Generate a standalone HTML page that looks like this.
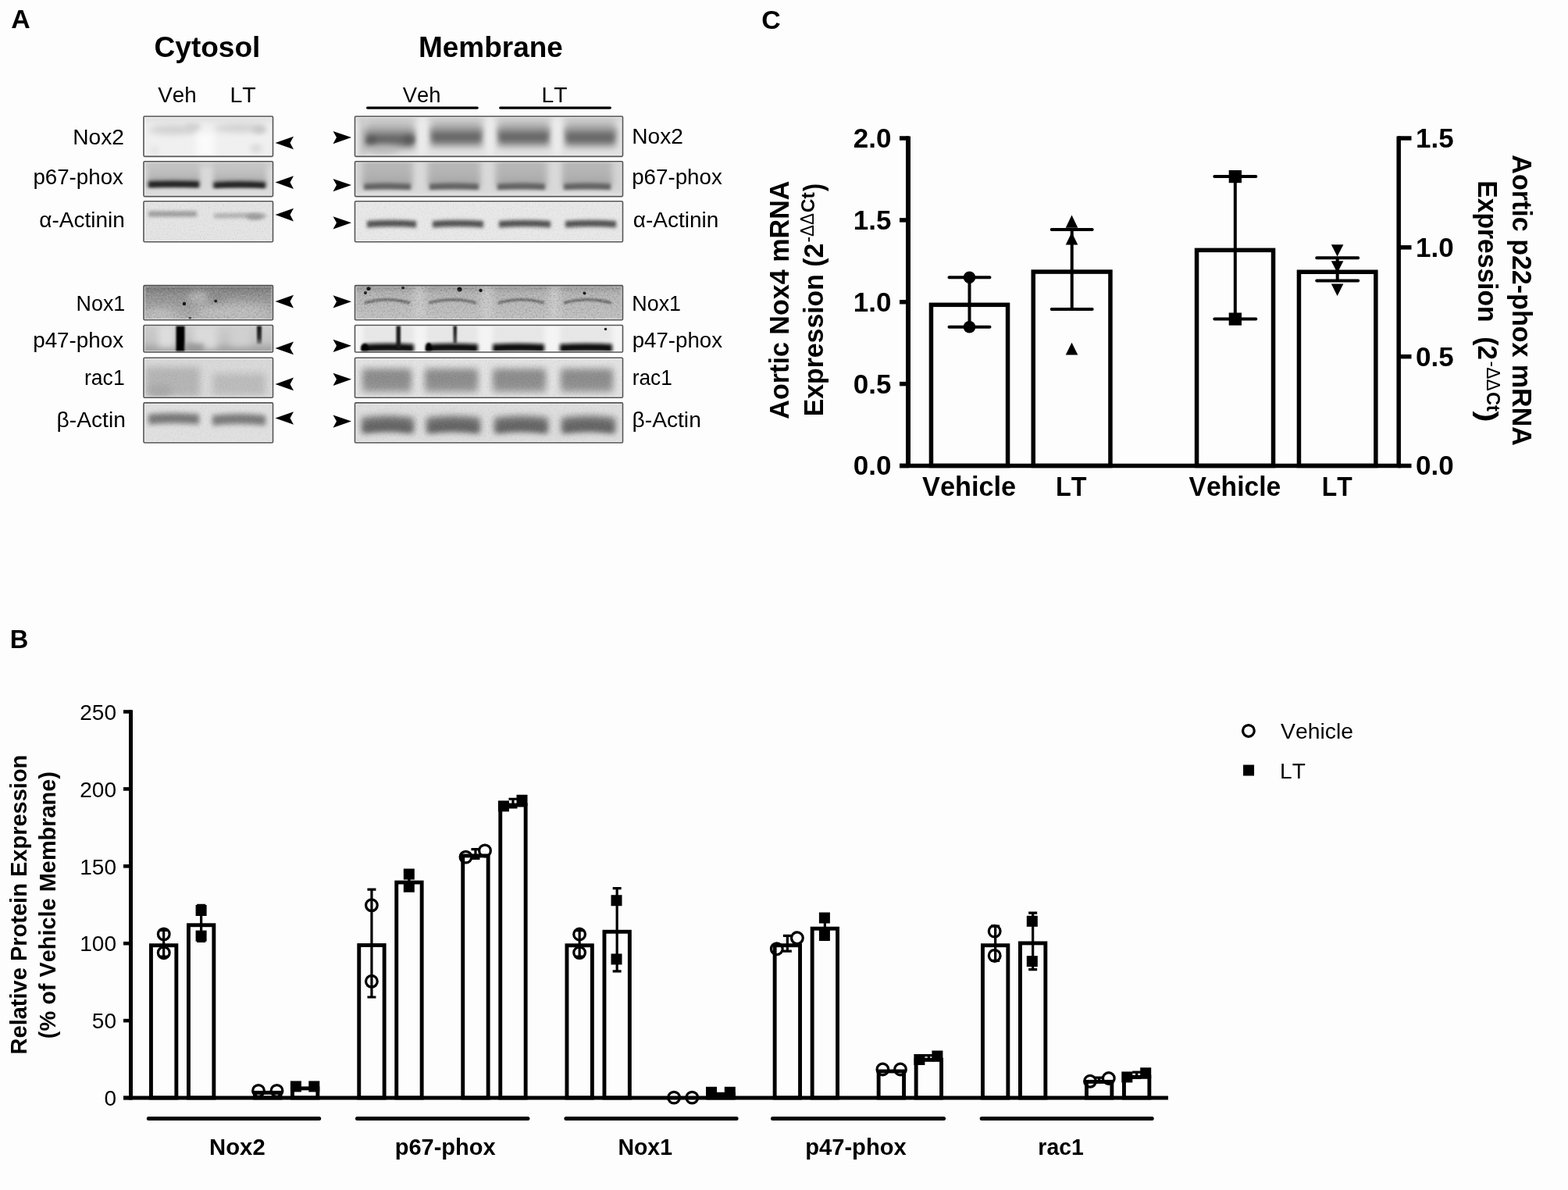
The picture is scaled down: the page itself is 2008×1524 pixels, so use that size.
<!DOCTYPE html>
<html><head><meta charset="utf-8"><title>Figure</title>
<style>html,body{margin:0;padding:0;background:#fdfdfd;overflow:hidden;width:2008px;height:1524px;}svg{display:block;} text{font-kerning:none;}</style></head>
<body><svg width="2008" height="1524" viewBox="0 0 2008 1524" font-family="'Liberation Sans', Arial, Helvetica, sans-serif">
<defs><filter id="b1" x="-50%" y="-300%" width="200%" height="700%"><feGaussianBlur stdDeviation="1.2"/></filter>
<filter id="b2" x="-50%" y="-300%" width="200%" height="700%"><feGaussianBlur stdDeviation="2"/></filter>
<filter id="b3" x="-50%" y="-300%" width="200%" height="700%"><feGaussianBlur stdDeviation="3"/></filter>
<filter id="b4" x="-50%" y="-300%" width="200%" height="700%"><feGaussianBlur stdDeviation="4"/></filter>
<filter id="b5" x="-50%" y="-300%" width="200%" height="700%"><feGaussianBlur stdDeviation="5"/></filter>
<filter id="b6" x="-50%" y="-300%" width="200%" height="700%"><feGaussianBlur stdDeviation="6"/></filter>
<filter id="b8" x="-50%" y="-300%" width="200%" height="700%"><feGaussianBlur stdDeviation="8"/></filter>
<filter id="n1D" x="0" y="0" width="100%" height="100%"><feTurbulence type="fractalNoise" baseFrequency="0.55" numOctaves="2" seed="3"/><feColorMatrix type="matrix" values="0 0 0 0 0  0 0 0 0 0  0 0 0 0 0  1.3 0 0 0 -0.65"/></filter>
<filter id="n1L" x="0" y="0" width="100%" height="100%"><feTurbulence type="fractalNoise" baseFrequency="0.55" numOctaves="2" seed="3"/><feColorMatrix type="matrix" values="0 0 0 0 1  0 0 0 0 1  0 0 0 0 1  -1.3 0 0 0 0.65"/></filter>
<filter id="n2D" x="0" y="0" width="100%" height="100%"><feTurbulence type="fractalNoise" baseFrequency="0.45" numOctaves="2" seed="7"/><feColorMatrix type="matrix" values="0 0 0 0 0  0 0 0 0 0  0 0 0 0 0  1.5 0 0 0 -0.75"/></filter>
<filter id="n2L" x="0" y="0" width="100%" height="100%"><feTurbulence type="fractalNoise" baseFrequency="0.45" numOctaves="2" seed="7"/><feColorMatrix type="matrix" values="0 0 0 0 1  0 0 0 0 1  0 0 0 0 1  -1.5 0 0 0 0.75"/></filter>
<clipPath id="c1"><rect x="184" y="149" width="165.5" height="51.4"/></clipPath>
<linearGradient id="g1" x1="0" y1="0" x2="0" y2="1"><stop offset="0" stop-color="#c8c8c8"/><stop offset="0.55" stop-color="#bcbcbc"/><stop offset="1" stop-color="#9a9a9a"/></linearGradient>
<linearGradient id="g2" x1="0" y1="0" x2="0" y2="1"><stop offset="0" stop-color="#cacaca"/><stop offset="0.55" stop-color="#bebebe"/><stop offset="1" stop-color="#9c9c9c"/></linearGradient>
<clipPath id="c2"><rect x="184" y="206.7" width="165.5" height="44.9"/></clipPath>
<clipPath id="c3"><rect x="184" y="257.7" width="165.5" height="52.1"/></clipPath>
<linearGradient id="g3" x1="0" y1="0" x2="0" y2="1"><stop offset="0" stop-color="#d4d4d4"/><stop offset="1" stop-color="#a8a8a8"/></linearGradient>
<linearGradient id="g4" x1="0" y1="0" x2="0" y2="1"><stop offset="0" stop-color="#d4d4d4"/><stop offset="1" stop-color="#a8a8a8"/></linearGradient>
<linearGradient id="g5" x1="0" y1="0" x2="0" y2="1"><stop offset="0" stop-color="#d4d4d4"/><stop offset="1" stop-color="#a8a8a8"/></linearGradient>
<linearGradient id="g6" x1="0" y1="0" x2="0" y2="1"><stop offset="0" stop-color="#d4d4d4"/><stop offset="1" stop-color="#a8a8a8"/></linearGradient>
<clipPath id="c4"><rect x="454.5" y="149" width="343" height="51.4"/></clipPath>
<linearGradient id="g7" x1="0" y1="0" x2="0" y2="1"><stop offset="0" stop-color="#bababa"/><stop offset="0.6" stop-color="#b2b2b2"/><stop offset="1" stop-color="#a2a2a2"/></linearGradient>
<linearGradient id="g8" x1="0" y1="0" x2="0" y2="1"><stop offset="0" stop-color="#bababa"/><stop offset="0.6" stop-color="#b2b2b2"/><stop offset="1" stop-color="#a2a2a2"/></linearGradient>
<linearGradient id="g9" x1="0" y1="0" x2="0" y2="1"><stop offset="0" stop-color="#bababa"/><stop offset="0.6" stop-color="#b2b2b2"/><stop offset="1" stop-color="#a2a2a2"/></linearGradient>
<linearGradient id="g10" x1="0" y1="0" x2="0" y2="1"><stop offset="0" stop-color="#bababa"/><stop offset="0.6" stop-color="#b2b2b2"/><stop offset="1" stop-color="#a2a2a2"/></linearGradient>
<clipPath id="c5"><rect x="454.5" y="206.7" width="343" height="44.9"/></clipPath>
<clipPath id="c6"><rect x="454.5" y="257.7" width="343" height="52.1"/></clipPath>
<linearGradient id="g11" x1="0" y1="0" x2="0" y2="1"><stop offset="0" stop-color="#6c6c6c"/><stop offset="0.25" stop-color="#909090"/><stop offset="0.7" stop-color="#a6a6a6"/><stop offset="1" stop-color="#b6b6b6"/></linearGradient>
<clipPath id="c7"><rect x="184" y="365.6" width="165.5" height="44.2"/></clipPath>
<linearGradient id="g12" x1="0" y1="0" x2="0" y2="1"><stop offset="0" stop-color="#cdcdcd"/><stop offset="0.6" stop-color="#c4c4c4"/><stop offset="1" stop-color="#9a9a9a"/></linearGradient>
<linearGradient id="g13" x1="0" y1="0" x2="0" y2="1"><stop offset="0" stop-color="#111111"/><stop offset="0.7" stop-color="#333333"/><stop offset="1" stop-color="#888888"/></linearGradient>
<clipPath id="c8"><rect x="184" y="416.5" width="165.5" height="34.5"/></clipPath>
<clipPath id="c9"><rect x="184" y="458.2" width="165.5" height="51.1"/></clipPath>
<clipPath id="c10"><rect x="184" y="515.9" width="165.5" height="51.1"/></clipPath>
<linearGradient id="g14" x1="0" y1="0" x2="0" y2="1"><stop offset="0" stop-color="#8a8a8a"/><stop offset="0.25" stop-color="#b4b4b4"/><stop offset="1" stop-color="#c2c2c2"/></linearGradient>
<clipPath id="c11"><rect x="454.5" y="365.6" width="343" height="44.2"/></clipPath>
<linearGradient id="g15" x1="0" y1="0" x2="0" y2="1"><stop offset="0" stop-color="#111"/><stop offset="0.5" stop-color="#2a2a2a"/><stop offset="1" stop-color="#555"/></linearGradient>
<clipPath id="c12"><rect x="454.5" y="416.5" width="343" height="34.5"/></clipPath>
<clipPath id="c13"><rect x="454.5" y="458.2" width="343" height="51.1"/></clipPath>
<clipPath id="c14"><rect x="454.5" y="515.9" width="343" height="51.1"/></clipPath></defs>
<rect width="2008" height="1524" fill="#fdfdfd"/>
<g clip-path="url(#c1)">
<rect x="184" y="149" width="165.5" height="51.4" fill="#f0f0f0"/>
<rect x="184" y="145" width="165.5" height="12" fill="#e2e2e2" filter="url(#b3)" opacity="1"/>
<ellipse cx="222" cy="166" rx="32" ry="6" fill="#cfcfcf" filter="url(#b4)" opacity="1"/>
<ellipse cx="247" cy="163" rx="10" ry="5" fill="#d0d0d0" filter="url(#b3)" opacity="1"/>
<ellipse cx="307" cy="164" rx="34" ry="5" fill="#cdcdcd" filter="url(#b4)" opacity="1"/>
<ellipse cx="332" cy="166" rx="9" ry="5" fill="#c8c8c8" filter="url(#b3)" opacity="1"/>
<rect x="252" y="170" width="22" height="35" fill="#fbfbfb" filter="url(#b4)" opacity="1"/>
<ellipse cx="328" cy="190" rx="8" ry="6" fill="#dcdcdc" filter="url(#b3)" opacity="1"/>
<ellipse cx="198" cy="193" rx="6" ry="6" fill="#e5e5e5" filter="url(#b3)" opacity="1"/>
<rect x="185.4" y="150.4" width="162.7" height="48.6" fill="none" stroke="#fff" stroke-width="1" opacity="0.55"/>
</g>
<rect x="184" y="149" width="165.5" height="51.4" rx="1.3" fill="none" stroke="#555555" stroke-width="1.6"/>
<g clip-path="url(#c2)">
<rect x="184" y="206.7" width="165.5" height="44.9" fill="#d9d9d9"/>
<rect x="184" y="206.7" width="165.5" height="8" fill="#cdcdcd" filter="url(#b3)" opacity="1"/>
<rect x="189" y="204.7" width="67" height="34" fill="url(#g1)" filter="url(#b3)" opacity="1"/>
<rect x="273" y="204.7" width="68" height="34" fill="url(#g2)" filter="url(#b3)" opacity="1"/>
<path d="M190 232.15 Q222.5 230.95 255 232.15 L255 240.65 Q222.5 239.45 190 240.65 Z" fill="#222222" filter="url(#b2)" opacity="1"/>
<path d="M273.5 233.55 Q306.75 230.75 340 233.55 L340 242.05 Q306.75 239.25 273.5 242.05 Z" fill="#222222" filter="url(#b2)" opacity="1"/>
<rect x="184" y="243" width="165.5" height="12" fill="#dcdcdc" filter="url(#b2)" opacity="1"/>
<rect x="185.4" y="208.1" width="162.7" height="42.1" fill="none" stroke="#fff" stroke-width="1" opacity="0.55"/>
</g>
<rect x="184" y="206.7" width="165.5" height="44.9" rx="1.3" fill="none" stroke="#555555" stroke-width="1.6"/>
<g clip-path="url(#c3)">
<rect x="184" y="257.7" width="165.5" height="52.1" fill="#e4e4e4"/>
<path d="M190 270.5 Q221 270.5 252 270.5 L252 277.5 Q221 277.5 190 277.5 Z" fill="#9c9c9c" filter="url(#b2)" opacity="1"/>
<path d="M274 273.6 Q307 272.4 340 273.6 L340 279.6 Q307 278.4 274 279.6 Z" fill="#afafaf" filter="url(#b2)" opacity="1"/>
<ellipse cx="326" cy="277.5" rx="11" ry="4" fill="#9d9d9d" filter="url(#b2)" opacity="1"/>
<rect x="184" y="257.7" width="165.5" height="52.1" filter="url(#n1D)" opacity="0.14"/>
<rect x="184" y="257.7" width="165.5" height="52.1" filter="url(#n1L)" opacity="0.14"/>
<rect x="185.4" y="259.1" width="162.7" height="49.3" fill="none" stroke="#fff" stroke-width="1" opacity="0.55"/>
</g>
<rect x="184" y="257.7" width="165.5" height="52.1" rx="1.3" fill="none" stroke="#555555" stroke-width="1.6"/>
<g clip-path="url(#c4)">
<rect x="454.5" y="149" width="343" height="51.4" fill="#e4e4e4"/>
<rect x="452.5" y="145" width="347" height="10" fill="#d8d8d8" filter="url(#b3)" opacity="1"/>
<rect x="460.5" y="149" width="8" height="51.4" fill="#cacaca" filter="url(#b3)" opacity="1"/>
<rect x="468" y="147" width="62" height="29.5" fill="url(#g3)" filter="url(#b4)" opacity="1"/>
<rect x="467" y="166.5" width="64" height="24" fill="#8c8c8c" filter="url(#b5)" opacity="1"/>
<rect x="470" y="173" width="58" height="11" fill="#686868" filter="url(#b3)" opacity="1"/>
<rect x="552" y="147" width="65" height="26.5" fill="url(#g4)" filter="url(#b4)" opacity="1"/>
<rect x="551" y="163.5" width="67" height="24" fill="#8c8c8c" filter="url(#b5)" opacity="1"/>
<rect x="554" y="170" width="61" height="11" fill="#686868" filter="url(#b3)" opacity="1"/>
<rect x="638" y="147" width="65" height="26.5" fill="url(#g5)" filter="url(#b4)" opacity="1"/>
<rect x="637" y="163.5" width="67" height="24" fill="#8c8c8c" filter="url(#b5)" opacity="1"/>
<rect x="640" y="170" width="61" height="11" fill="#686868" filter="url(#b3)" opacity="1"/>
<rect x="724" y="147" width="64" height="27" fill="url(#g6)" filter="url(#b4)" opacity="1"/>
<rect x="723" y="164" width="66" height="24" fill="#8c8c8c" filter="url(#b5)" opacity="1"/>
<rect x="726" y="170.5" width="60" height="11" fill="#686868" filter="url(#b3)" opacity="1"/>
<ellipse cx="476" cy="180" rx="7" ry="5" fill="#555" filter="url(#b3)" opacity="0.8"/>
<ellipse cx="524" cy="179" rx="8" ry="5" fill="#555" filter="url(#b3)" opacity="0.8"/>
<ellipse cx="490" cy="192" rx="22" ry="6" fill="#b8b8b8" filter="url(#b4)" opacity="0.8"/>
<rect x="536" y="149" width="10" height="51.4" fill="#ececec" filter="url(#b3)" opacity="0.9"/>
<rect x="622.5" y="149" width="10" height="51.4" fill="#ececec" filter="url(#b3)" opacity="0.9"/>
<rect x="708.5" y="149" width="10" height="51.4" fill="#ececec" filter="url(#b3)" opacity="0.9"/>
<rect x="455.9" y="150.4" width="340.2" height="48.6" fill="none" stroke="#fff" stroke-width="1" opacity="0.55"/>
</g>
<rect x="454.5" y="149" width="343" height="51.4" rx="1.3" fill="none" stroke="#555555" stroke-width="1.6"/>
<g clip-path="url(#c5)">
<rect x="454.5" y="206.7" width="343" height="44.9" fill="#d4d4d4"/>
<rect x="464" y="202.7" width="64" height="36" fill="url(#g7)" filter="url(#b4)" opacity="1"/>
<path d="M466 235.35 Q496 232.95 526 235.35 L526 243.85 Q496 241.45 466 243.85 Z" fill="#626262" filter="url(#b2)" opacity="1"/>
<rect x="548" y="202.7" width="67" height="36" fill="url(#g8)" filter="url(#b4)" opacity="1"/>
<path d="M550 235.35 Q581.5 232.95 613 235.35 L613 243.85 Q581.5 241.45 550 243.85 Z" fill="#626262" filter="url(#b2)" opacity="1"/>
<rect x="635" y="202.7" width="65" height="36" fill="url(#g9)" filter="url(#b4)" opacity="1"/>
<path d="M637 235.35 Q667.5 232.95 698 235.35 L698 243.85 Q667.5 241.45 637 243.85 Z" fill="#626262" filter="url(#b2)" opacity="1"/>
<rect x="720" y="202.7" width="64" height="36" fill="url(#g10)" filter="url(#b4)" opacity="1"/>
<path d="M722 235.35 Q752 232.95 782 235.35 L782 243.85 Q752 241.45 722 243.85 Z" fill="#626262" filter="url(#b2)" opacity="1"/>
<rect x="533" y="206.7" width="10" height="44.9" fill="#dadada" filter="url(#b3)" opacity="0.9"/>
<rect x="620" y="206.7" width="10" height="44.9" fill="#dadada" filter="url(#b3)" opacity="0.9"/>
<rect x="706" y="206.7" width="10" height="44.9" fill="#dadada" filter="url(#b3)" opacity="0.9"/>
<rect x="454.5" y="245.5" width="343" height="12" fill="#dddddd" filter="url(#b2)" opacity="1"/>
<rect x="455.9" y="208.1" width="340.2" height="42.1" fill="none" stroke="#fff" stroke-width="1" opacity="0.55"/>
</g>
<rect x="454.5" y="206.7" width="343" height="44.9" rx="1.3" fill="none" stroke="#555555" stroke-width="1.6"/>
<g clip-path="url(#c6)">
<rect x="454.5" y="257.7" width="343" height="52.1" fill="#e8e8e8"/>
<path d="M470 283.05 Q501.5 280.45 533 283.05 L533 291.55 Q501.5 288.95 470 291.55 Z" fill="#525252" filter="url(#b2)" opacity="1"/>
<path d="M554 283.05 Q586.5 280.45 619 283.05 L619 291.55 Q586.5 288.95 554 291.55 Z" fill="#525252" filter="url(#b2)" opacity="1"/>
<path d="M639 283.05 Q672 280.45 705 283.05 L705 291.55 Q672 288.95 639 291.55 Z" fill="#525252" filter="url(#b2)" opacity="1"/>
<path d="M724 283.05 Q756.5 280.45 789 283.05 L789 291.55 Q756.5 288.95 724 291.55 Z" fill="#525252" filter="url(#b2)" opacity="1"/>
<rect x="454.5" y="257.7" width="343" height="52.1" filter="url(#n1D)" opacity="0.14"/>
<rect x="454.5" y="257.7" width="343" height="52.1" filter="url(#n1L)" opacity="0.14"/>
<rect x="455.9" y="259.1" width="340.2" height="49.3" fill="none" stroke="#fff" stroke-width="1" opacity="0.55"/>
</g>
<rect x="454.5" y="257.7" width="343" height="52.1" rx="1.3" fill="none" stroke="#555555" stroke-width="1.6"/>
<g clip-path="url(#c7)">
<rect x="184" y="365.6" width="165.5" height="44.2" fill="#a8a8a8"/>
<rect x="184" y="363.6" width="165.5" height="50" fill="url(#g11)" filter="url(#b2)" opacity="1"/>
<ellipse cx="300" cy="400" rx="50" ry="12" fill="#c2c2c2" filter="url(#b6)" opacity="0.8"/>
<ellipse cx="205" cy="404" rx="22" ry="8" fill="#c0c0c0" filter="url(#b6)" opacity="1"/>
<ellipse cx="255" cy="381" rx="14" ry="8" fill="#bcbcbc" filter="url(#b4)" opacity="0.8"/>
<ellipse cx="277" cy="379" rx="12" ry="10" fill="#8c8c8c" filter="url(#b4)" opacity="0.6"/>
<circle cx="236" cy="389" r="2.2" fill="#111"/>
<circle cx="276.3" cy="385.5" r="2" fill="#222"/>
<circle cx="243.2" cy="407.5" r="1.7" fill="#333"/>
<rect x="184" y="365.6" width="165.5" height="44.2" filter="url(#n2D)" opacity="0.3"/>
<rect x="184" y="365.6" width="165.5" height="44.2" filter="url(#n2L)" opacity="0.3"/>
<rect x="185.4" y="367" width="162.7" height="41.4" fill="none" stroke="#fff" stroke-width="1" opacity="0.55"/>
</g>
<rect x="184" y="365.6" width="165.5" height="44.2" rx="1.3" fill="none" stroke="#555555" stroke-width="1.6"/>
<g clip-path="url(#c8)">
<rect x="184" y="416.5" width="165.5" height="34.5" fill="#c8c8c8"/>
<rect x="184" y="416.5" width="165.5" height="34.5" fill="url(#g12)" filter="url(#b2)" opacity="1"/>
<rect x="203" y="416.5" width="20" height="28" fill="#dedede" filter="url(#b4)" opacity="1"/>
<rect x="248" y="416.5" width="30" height="30" fill="#dadada" filter="url(#b4)" opacity="1"/>
<rect x="296" y="416.5" width="25" height="26" fill="#d0d0d0" filter="url(#b4)" opacity="1"/>
<rect x="225.5" y="414.5" width="11" height="42" fill="#050505" filter="url(#b1)" opacity="1"/>
<rect x="239" y="440" width="22" height="14" fill="#9a9a9a" filter="url(#b3)" opacity="1"/>
<rect x="329" y="414.5" width="6" height="26" fill="url(#g13)" filter="url(#b1)" opacity="1"/>
<rect x="185.4" y="417.9" width="162.7" height="31.7" fill="none" stroke="#fff" stroke-width="1" opacity="0.55"/>
</g>
<rect x="184" y="416.5" width="165.5" height="34.5" rx="1.3" fill="none" stroke="#555555" stroke-width="1.6"/>
<g clip-path="url(#c9)">
<rect x="184" y="458.2" width="165.5" height="51.1" fill="#d9d9d9"/>
<rect x="186" y="470" width="70" height="38" fill="#b5b5b5" filter="url(#b5)" opacity="1"/>
<ellipse cx="205" cy="500" rx="16" ry="8" fill="#a9a9a9" filter="url(#b4)" opacity="1"/>
<rect x="272" y="478" width="68" height="28" fill="#bcbcbc" filter="url(#b5)" opacity="1"/>
<rect x="184" y="458.2" width="165.5" height="51.1" filter="url(#n1D)" opacity="0.12"/>
<rect x="184" y="458.2" width="165.5" height="51.1" filter="url(#n1L)" opacity="0.12"/>
<rect x="185.4" y="459.6" width="162.7" height="48.3" fill="none" stroke="#fff" stroke-width="1" opacity="0.55"/>
</g>
<rect x="184" y="458.2" width="165.5" height="51.1" rx="1.3" fill="none" stroke="#555555" stroke-width="1.6"/>
<g clip-path="url(#c10)">
<rect x="184" y="515.9" width="165.5" height="51.1" fill="#e0e0e0"/>
<path d="M190 530.5 Q222.5 527.5 255 530.5 L255 543.5 Q222.5 540.5 190 543.5 Z" fill="#787878" filter="url(#b3)" opacity="1"/>
<path d="M272 532 Q306 528 340 532 L340 545 Q306 541 272 545 Z" fill="#7a7a7a" filter="url(#b3)" opacity="1"/>
<rect x="184" y="515.9" width="165.5" height="51.1" filter="url(#n1D)" opacity="0.12"/>
<rect x="184" y="515.9" width="165.5" height="51.1" filter="url(#n1L)" opacity="0.12"/>
<rect x="185.4" y="517.3" width="162.7" height="48.3" fill="none" stroke="#fff" stroke-width="1" opacity="0.55"/>
</g>
<rect x="184" y="515.9" width="165.5" height="51.1" rx="1.3" fill="none" stroke="#555555" stroke-width="1.6"/>
<g clip-path="url(#c11)">
<rect x="454.5" y="365.6" width="343" height="44.2" fill="#c0c0c0"/>
<rect x="454.5" y="363.6" width="343" height="48" fill="url(#g14)" filter="url(#b2)" opacity="1"/>
<path d="M467 388 Q496 379.5 525 388" stroke="#6e6e6e" stroke-width="3.6" fill="none" filter="url(#b1)"/>
<path d="M549 388 Q579.5 379.5 610 388" stroke="#6e6e6e" stroke-width="3.6" fill="none" filter="url(#b1)"/>
<path d="M638 388 Q667.5 379.5 697 388" stroke="#6e6e6e" stroke-width="3.6" fill="none" filter="url(#b1)"/>
<path d="M722 388 Q752.5 379.5 783 388" stroke="#6e6e6e" stroke-width="3.6" fill="none" filter="url(#b1)"/>
<rect x="530" y="365.6" width="14" height="44.2" fill="#d0d0d0" filter="url(#b4)" opacity="0.7"/>
<rect x="617" y="365.6" width="14" height="44.2" fill="#d0d0d0" filter="url(#b4)" opacity="0.7"/>
<rect x="703" y="365.6" width="14" height="44.2" fill="#d0d0d0" filter="url(#b4)" opacity="0.7"/>
<circle cx="472" cy="369.5" r="2.6" fill="#151515"/>
<circle cx="468" cy="375" r="2" fill="#151515"/>
<circle cx="516" cy="368.5" r="2" fill="#151515"/>
<circle cx="588.5" cy="370.5" r="3" fill="#151515"/>
<circle cx="615.5" cy="372" r="2.2" fill="#151515"/>
<circle cx="748.5" cy="375.5" r="2" fill="#151515"/>
<rect x="454.5" y="365.6" width="343" height="44.2" filter="url(#n2D)" opacity="0.3"/>
<rect x="454.5" y="365.6" width="343" height="44.2" filter="url(#n2L)" opacity="0.3"/>
<rect x="455.9" y="367" width="340.2" height="41.4" fill="none" stroke="#fff" stroke-width="1" opacity="0.55"/>
</g>
<rect x="454.5" y="365.6" width="343" height="44.2" rx="1.3" fill="none" stroke="#555555" stroke-width="1.6"/>
<g clip-path="url(#c12)">
<rect x="454.5" y="416.5" width="343" height="34.5" fill="#f4f4f4"/>
<rect x="465" y="416.5" width="65" height="22" fill="#e6e6e6" filter="url(#b3)" opacity="1"/>
<path d="M465 440.65 Q497.5 438.85 530 440.65 L530 451.15 Q497.5 449.35 465 451.15 Z" fill="#0c0c0c" filter="url(#b2)" opacity="1"/>
<rect x="546" y="416.5" width="66" height="22" fill="#e6e6e6" filter="url(#b3)" opacity="1"/>
<path d="M546 440.65 Q579 438.85 612 440.65 L612 451.15 Q579 449.35 546 451.15 Z" fill="#0c0c0c" filter="url(#b2)" opacity="1"/>
<rect x="631" y="416.5" width="66" height="22" fill="#e6e6e6" filter="url(#b3)" opacity="1"/>
<path d="M631 440.65 Q664 438.85 697 440.65 L697 451.15 Q664 449.35 631 451.15 Z" fill="#0c0c0c" filter="url(#b2)" opacity="1"/>
<rect x="717" y="416.5" width="67" height="22" fill="#e6e6e6" filter="url(#b3)" opacity="1"/>
<path d="M717 440.65 Q750.5 438.85 784 440.65 L784 451.15 Q750.5 449.35 717 451.15 Z" fill="#0c0c0c" filter="url(#b2)" opacity="1"/>
<rect x="507.5" y="414.5" width="5.5" height="32" fill="#1c1c1c" filter="url(#b1)" opacity="1"/>
<rect x="580.5" y="414.5" width="4.5" height="26" fill="url(#g15)" filter="url(#b1)" opacity="1"/>
<ellipse cx="467" cy="446" rx="5" ry="6" fill="#000" filter="url(#b1)" opacity="1"/>
<ellipse cx="549" cy="446" rx="4" ry="7" fill="#000" filter="url(#b1)" opacity="1"/>
<circle cx="775.5" cy="421.5" r="1.8" fill="#222"/>
<rect x="455.9" y="417.9" width="340.2" height="31.7" fill="none" stroke="#fff" stroke-width="1" opacity="0.55"/>
</g>
<rect x="454.5" y="416.5" width="343" height="34.5" rx="1.3" fill="none" stroke="#555555" stroke-width="1.6"/>
<g clip-path="url(#c13)">
<rect x="454.5" y="458.2" width="343" height="51.1" fill="#e3e3e3"/>
<rect x="464" y="472" width="63" height="30" fill="#939393" filter="url(#b5)" opacity="1"/>
<rect x="468" y="478" width="55" height="12" fill="#888888" filter="url(#b4)" opacity="0.7"/>
<rect x="544" y="472" width="68" height="30" fill="#939393" filter="url(#b5)" opacity="1"/>
<rect x="548" y="478" width="60" height="12" fill="#888888" filter="url(#b4)" opacity="0.7"/>
<rect x="631" y="472" width="68" height="30" fill="#939393" filter="url(#b5)" opacity="1"/>
<rect x="635" y="478" width="60" height="12" fill="#888888" filter="url(#b4)" opacity="0.7"/>
<rect x="718" y="472" width="67" height="30" fill="#939393" filter="url(#b5)" opacity="1"/>
<rect x="722" y="478" width="59" height="12" fill="#888888" filter="url(#b4)" opacity="0.7"/>
<rect x="454.5" y="458.2" width="343" height="51.1" filter="url(#n1D)" opacity="0.14"/>
<rect x="454.5" y="458.2" width="343" height="51.1" filter="url(#n1L)" opacity="0.14"/>
<rect x="455.9" y="459.6" width="340.2" height="48.3" fill="none" stroke="#fff" stroke-width="1" opacity="0.55"/>
</g>
<rect x="454.5" y="458.2" width="343" height="51.1" rx="1.3" fill="none" stroke="#555555" stroke-width="1.6"/>
<g clip-path="url(#c14)">
<rect x="454.5" y="515.9" width="343" height="51.1" fill="#dedede"/>
<path d="M463 535 Q496.5 530 530 535 L530 555 Q496.5 550 463 555 Z" fill="#6e6e6e" filter="url(#b4)" opacity="1"/>
<path d="M466 545.5 Q496.5 540.5 527 545.5 L527 553.5 Q496.5 548.5 466 553.5 Z" fill="#5a5a5a" filter="url(#b3)" opacity="0.7"/>
<path d="M546 535 Q580.5 530 615 535 L615 555 Q580.5 550 546 555 Z" fill="#6e6e6e" filter="url(#b4)" opacity="1"/>
<path d="M549 545.5 Q580.5 540.5 612 545.5 L612 553.5 Q580.5 548.5 549 553.5 Z" fill="#5a5a5a" filter="url(#b3)" opacity="0.7"/>
<path d="M633 535 Q667.5 530 702 535 L702 555 Q667.5 550 633 555 Z" fill="#6e6e6e" filter="url(#b4)" opacity="1"/>
<path d="M636 545.5 Q667.5 540.5 699 545.5 L699 553.5 Q667.5 548.5 636 553.5 Z" fill="#5a5a5a" filter="url(#b3)" opacity="0.7"/>
<path d="M719 535 Q753.5 530 788 535 L788 555 Q753.5 550 719 555 Z" fill="#6e6e6e" filter="url(#b4)" opacity="1"/>
<path d="M722 545.5 Q753.5 540.5 785 545.5 L785 553.5 Q753.5 548.5 722 553.5 Z" fill="#5a5a5a" filter="url(#b3)" opacity="0.7"/>
<rect x="454.5" y="515.9" width="343" height="51.1" filter="url(#n1D)" opacity="0.14"/>
<rect x="454.5" y="515.9" width="343" height="51.1" filter="url(#n1L)" opacity="0.14"/>
<rect x="455.9" y="517.3" width="340.2" height="48.3" fill="none" stroke="#fff" stroke-width="1" opacity="0.55"/>
</g>
<rect x="454.5" y="515.9" width="343" height="51.1" rx="1.3" fill="none" stroke="#555555" stroke-width="1.6"/>
<path d="M352.5 183 L376 174.7 L371.5 183 L376 191.3 Z" fill="#000"/>
<path d="M352.5 233.6 L376 225.3 L371.5 233.6 L376 241.9 Z" fill="#000"/>
<path d="M352.5 275.1 L376 266.8 L371.5 275.1 L376 283.4 Z" fill="#000"/>
<path d="M352.5 386.1 L376 377.8 L371.5 386.1 L376 394.4 Z" fill="#000"/>
<path d="M352.5 445.9 L376 437.6 L371.5 445.9 L376 454.2 Z" fill="#000"/>
<path d="M352.5 491.9 L376 483.6 L371.5 491.9 L376 500.2 Z" fill="#000"/>
<path d="M352.5 535.5 L376 527.2 L371.5 535.5 L376 543.8 Z" fill="#000"/>
<path d="M450 176.1 L426.5 168 L431 176.1 L426.5 184.2 Z" fill="#000"/>
<path d="M450 237.1 L426.5 229 L431 237.1 L426.5 245.2 Z" fill="#000"/>
<path d="M450 285.3 L426.5 277.2 L431 285.3 L426.5 293.4 Z" fill="#000"/>
<path d="M450 386.3 L426.5 378.2 L431 386.3 L426.5 394.4 Z" fill="#000"/>
<path d="M450 442.8 L426.5 434.7 L431 442.8 L426.5 450.9 Z" fill="#000"/>
<path d="M450 485.8 L426.5 477.7 L431 485.8 L426.5 493.9 Z" fill="#000"/>
<path d="M450 539.6 L426.5 531.5 L431 539.6 L426.5 547.7 Z" fill="#000"/>
<text x="14.35" y="36.4" font-size="32.8" font-weight="bold" textLength="24.48" lengthAdjust="spacingAndGlyphs">A</text>
<text x="197.52" y="73" font-size="36.6" font-weight="bold" textLength="135.88" lengthAdjust="spacingAndGlyphs">Cytosol</text>
<text x="536" y="73.4" font-size="36.8" font-weight="bold" textLength="184.9" lengthAdjust="spacingAndGlyphs">Membrane</text>
<text x="202.16" y="130.6" font-size="27.2" textLength="49.42" lengthAdjust="spacingAndGlyphs">Veh</text>
<text x="294.44" y="130.6" font-size="27.2" textLength="33.27" lengthAdjust="spacingAndGlyphs">LT</text>
<text x="515.76" y="130.9" font-size="27.2" textLength="48.7" lengthAdjust="spacingAndGlyphs">Veh</text>
<text x="693.46" y="130.9" font-size="27.2" textLength="33.05" lengthAdjust="spacingAndGlyphs">LT</text>
<line x1="470.6" y1="138.1" x2="611.2" y2="138.1" stroke="#000" stroke-width="3.3" stroke-linecap="round"/>
<line x1="640.7" y1="138.1" x2="781.3" y2="138.1" stroke="#000" stroke-width="3.3" stroke-linecap="round"/>
<text x="93.27" y="184.6" font-size="27.3" textLength="65.73" lengthAdjust="spacingAndGlyphs">Nox2</text>
<text x="42.4" y="236.2" font-size="27.3" textLength="115.55" lengthAdjust="spacingAndGlyphs">p67-phox</text>
<text x="50.31" y="290.9" font-size="27.3" textLength="109.61" lengthAdjust="spacingAndGlyphs">α-Actinin</text>
<text x="97.58" y="397.7" font-size="27.3" textLength="62.69" lengthAdjust="spacingAndGlyphs">Nox1</text>
<text x="42.19" y="444.8" font-size="27.3" textLength="115.96" lengthAdjust="spacingAndGlyphs">p47-phox</text>
<text x="108" y="493.4" font-size="27.3" textLength="51.66" lengthAdjust="spacingAndGlyphs">rac1</text>
<text x="72.63" y="547" font-size="27.3" textLength="88.2" lengthAdjust="spacingAndGlyphs">β-Actin</text>
<text x="809.17" y="184.3" font-size="27.3" textLength="65.73" lengthAdjust="spacingAndGlyphs">Nox2</text>
<text x="809.19" y="236.2" font-size="27.3" textLength="115.65" lengthAdjust="spacingAndGlyphs">p67-phox</text>
<text x="810.71" y="290.9" font-size="27.3" textLength="109.61" lengthAdjust="spacingAndGlyphs">α-Actinin</text>
<text x="809.28" y="398" font-size="27.3" textLength="62.8" lengthAdjust="spacingAndGlyphs">Nox1</text>
<text x="809.7" y="444.8" font-size="27.3" textLength="115.35" lengthAdjust="spacingAndGlyphs">p47-phox</text>
<text x="809.72" y="493.4" font-size="27.3" textLength="51.13" lengthAdjust="spacingAndGlyphs">rac1</text>
<text x="809.53" y="547" font-size="27.3" textLength="88.31" lengthAdjust="spacingAndGlyphs">β-Actin</text>
<text x="975.34" y="36.6" font-size="33" font-weight="bold" textLength="24.49" lengthAdjust="spacingAndGlyphs">C</text>
<path d="M1163 174.5 V599" stroke="#000" stroke-width="6" fill="none"/>
<path d="M1791.2 174.5 V599" stroke="#000" stroke-width="5.5" fill="none"/>
<path d="M1152 596.5 H1794" stroke="#000" stroke-width="5.5" fill="none"/>
<path d="M1152 596.5 H1164" stroke="#000" stroke-width="5.5"/>
<text x="1141.5" y="608.4" font-size="35" font-weight="bold" text-anchor="end">0.0</text>
<path d="M1152 491.62 H1164" stroke="#000" stroke-width="5.5"/>
<text x="1141.5" y="503.52" font-size="35" font-weight="bold" text-anchor="end">0.5</text>
<path d="M1152 386.75 H1164" stroke="#000" stroke-width="5.5"/>
<text x="1141.5" y="398.65" font-size="35" font-weight="bold" text-anchor="end">1.0</text>
<path d="M1152 281.88 H1164" stroke="#000" stroke-width="5.5"/>
<text x="1141.5" y="293.77" font-size="35" font-weight="bold" text-anchor="end">1.5</text>
<path d="M1152 177 H1164" stroke="#000" stroke-width="5.5"/>
<text x="1141.5" y="188.9" font-size="35" font-weight="bold" text-anchor="end">2.0</text>
<path d="M1790 596.5 H1807.5" stroke="#000" stroke-width="5.5"/>
<text x="1813" y="608.4" font-size="35" font-weight="bold">0.0</text>
<path d="M1790 456.66 H1807.5" stroke="#000" stroke-width="5.5"/>
<text x="1813" y="468.56" font-size="35" font-weight="bold">0.5</text>
<path d="M1790 316.83 H1807.5" stroke="#000" stroke-width="5.5"/>
<text x="1813" y="328.73" font-size="35" font-weight="bold">1.0</text>
<path d="M1790 177 H1807.5" stroke="#000" stroke-width="5.5"/>
<text x="1813" y="188.9" font-size="35" font-weight="bold">1.5</text>
<rect x="1192.45" y="390.35" width="98.1" height="206.15" fill="#fff" fill-opacity="0" stroke="#000" stroke-width="5.5"/>
<rect x="1323.25" y="348.05" width="98.7" height="248.45" fill="#fff" fill-opacity="0" stroke="#000" stroke-width="5.5"/>
<rect x="1532.55" y="320.35" width="98" height="276.15" fill="#fff" fill-opacity="0" stroke="#000" stroke-width="5.5"/>
<rect x="1663.45" y="348.25" width="98.4" height="248.25" fill="#fff" fill-opacity="0" stroke="#000" stroke-width="5.5"/>
<path d="M1241.5 355.2 V418.7" stroke="#000" stroke-width="4"/>
<path d="M1215.5 355.2 H1267.5 M1215.5 418.7 H1267.5" stroke="#000" stroke-width="4" stroke-linecap="round"/>
<circle cx="1241.5" cy="355.2" r="7.8" fill="#000"/><circle cx="1241.5" cy="418.7" r="7.8" fill="#000"/>
<path d="M1372.7 294 V396" stroke="#000" stroke-width="4"/>
<path d="M1346.7 294 H1398.7 M1346.7 396 H1398.7" stroke="#000" stroke-width="4" stroke-linecap="round"/>
<path d="M1372.5 275.4 L1380.3 291.7 L1364.7 291.7 Z" fill="#000"/>
<path d="M1372.5 297.5 L1380.3 313.5 L1364.7 313.5 Z" fill="#000"/>
<path d="M1372.5 438.8 L1380.3 454.6 L1364.7 454.6 Z" fill="#000"/>
<path d="M1581.8 226 V408.5" stroke="#000" stroke-width="4"/>
<path d="M1555.3 226 H1608.3 M1555.3 408.5 H1608.3" stroke="#000" stroke-width="4" stroke-linecap="round"/>
<rect x="1573.7" y="218" width="16.3" height="16.2" fill="#000"/><rect x="1573.7" y="400.5" width="16.3" height="16.2" fill="#000"/>
<path d="M1712.7 330.3 V359.5" stroke="#000" stroke-width="4"/>
<path d="M1686.2 330.3 H1739.2 M1686.2 359.5 H1739.2" stroke="#000" stroke-width="4" stroke-linecap="round"/>
<path d="M1704.8 313.3 L1720.4 313.3 L1712.6 328.5 Z" fill="#000"/>
<path d="M1704.8 334.2 L1720.4 334.2 L1712.6 349.5 Z" fill="#000"/>
<path d="M1704.8 363.5 L1720.4 363.5 L1712.6 379 Z" fill="#000"/>
<text x="1181.04" y="634.7" font-size="35" font-weight="bold" textLength="120.04" lengthAdjust="spacingAndGlyphs">Vehicle</text>
<text x="1351.91" y="634.9" font-size="35" font-weight="bold" textLength="39.47" lengthAdjust="spacingAndGlyphs">LT</text>
<text x="1522.45" y="634.7" font-size="35" font-weight="bold" textLength="117.82" lengthAdjust="spacingAndGlyphs">Vehicle</text>
<text x="1692.84" y="634.9" font-size="35" font-weight="bold" textLength="38.94" lengthAdjust="spacingAndGlyphs">LT</text>
<text transform="translate(1010.2 535.8) rotate(-90)" x="-0.85" y="0" font-size="35.5" font-weight="bold" textLength="305.09" lengthAdjust="spacingAndGlyphs">Aortic Nox4 mRNA</text>
<text transform="translate(1054.4 531) rotate(-90)" x="-2.28" y="0" font-size="35.5" font-weight="bold" textLength="221.54" lengthAdjust="spacingAndGlyphs">Expression (2</text>
<text transform="translate(1042.4 309.5) rotate(-90)" x="-1.01" y="0" font-size="24" textLength="37.38" lengthAdjust="spacingAndGlyphs">-ΔΔ</text>
<text transform="translate(1042.6 271.3) rotate(-90)" x="-0.98" y="0" font-size="24" font-weight="bold" textLength="25.89" lengthAdjust="spacingAndGlyphs">Ct</text>
<text transform="translate(1054.4 244.9) rotate(-90)" x="-0.07" y="0" font-size="35.5" font-weight="bold" textLength="9.86" lengthAdjust="spacingAndGlyphs">)</text>
<text transform="translate(1936.9 199.2) rotate(90)" x="-0.85" y="0" font-size="35.5" font-weight="bold" textLength="372.49" lengthAdjust="spacingAndGlyphs">Aortic p22-phox mRNA</text>
<text transform="translate(1892.6 233.6) rotate(90)" x="-2.27" y="0" font-size="35.5" font-weight="bold" textLength="229.72" lengthAdjust="spacingAndGlyphs">Expression  (2</text>
<text transform="translate(1904.1 463.6) rotate(90)" x="-1.03" y="0" font-size="24" textLength="38.11" lengthAdjust="spacingAndGlyphs">-ΔΔ</text>
<text transform="translate(1903.9 503) rotate(90)" x="-0.94" y="0" font-size="24" font-weight="bold" textLength="24.84" lengthAdjust="spacingAndGlyphs">Ct</text>
<text transform="translate(1892.6 526.5) rotate(90)" x="-0.11" y="0" font-size="35.5" font-weight="bold" textLength="14.13" lengthAdjust="spacingAndGlyphs">)</text>
<text x="12.8" y="829.7" font-size="33" font-weight="bold" textLength="23.57" lengthAdjust="spacingAndGlyphs">B</text>
<path d="M167.5 909.3 V1408.5" stroke="#000" stroke-width="5" fill="none"/>
<path d="M158 1406 H1496" stroke="#000" stroke-width="5" fill="none"/>
<path d="M158 1406 H168" stroke="#000" stroke-width="4.6"/>
<text x="149" y="1416.2" font-size="28" text-anchor="end">0</text>
<path d="M158 1307.1 H168" stroke="#000" stroke-width="4.6"/>
<text x="149" y="1317.3" font-size="28" text-anchor="end">50</text>
<path d="M158 1208.2 H168" stroke="#000" stroke-width="4.6"/>
<text x="149" y="1218.4" font-size="28" text-anchor="end">100</text>
<path d="M158 1109.3 H168" stroke="#000" stroke-width="4.6"/>
<text x="149" y="1119.5" font-size="28" text-anchor="end">150</text>
<path d="M158 1010.4 H168" stroke="#000" stroke-width="4.6"/>
<text x="149" y="1020.6" font-size="28" text-anchor="end">200</text>
<path d="M158 911.5 H168" stroke="#000" stroke-width="4.6"/>
<text x="149" y="921.7" font-size="28" text-anchor="end">250</text>
<text transform="translate(34.4 1348.5) rotate(-90)" x="-1.96" y="0" font-size="29.5" font-weight="bold" textLength="383.8" lengthAdjust="spacingAndGlyphs">Relative Protein Expression</text>
<text transform="translate(70.9 1328.7) rotate(-90)" x="-1.45" y="0" font-size="29.5" font-weight="bold" textLength="342.07" lengthAdjust="spacingAndGlyphs">(% of Vehicle Membrane)</text>
<rect x="193.45" y="1210.7" width="32.4" height="195.3" fill="none" stroke="#000" stroke-width="4.9"/>
<path d="M209.65 1191.42 V1225.08 M204.15 1191.42 H215.15 M204.15 1225.08 H215.15" stroke="#000" stroke-width="3.2" fill="none"/>
<circle cx="209.75" cy="1196.35" r="7.35" fill="none" stroke="#000" stroke-width="3.25"/>
<circle cx="209.75" cy="1220.15" r="7.35" fill="none" stroke="#000" stroke-width="3.25"/>
<rect x="241.45" y="1184.75" width="32.4" height="221.25" fill="none" stroke="#000" stroke-width="4.9"/>
<path d="M257.65 1159.25 V1205.35 M252.15 1159.25 H263.15 M252.15 1205.35 H263.15" stroke="#000" stroke-width="3.2" fill="none"/>
<rect x="250.6" y="1159" width="14" height="14" fill="#000"/>
<rect x="250.6" y="1191.6" width="14" height="14" fill="#000"/>
<rect x="326.45" y="1399.35" width="32.4" height="6.65" fill="none" stroke="#000" stroke-width="4.9"/>
<circle cx="331" cy="1396.9" r="7.35" fill="none" stroke="#000" stroke-width="3.25"/>
<circle cx="354.5" cy="1396.9" r="7.35" fill="none" stroke="#000" stroke-width="3.25"/>
<rect x="374.45" y="1393.85" width="32.4" height="12.15" fill="none" stroke="#000" stroke-width="4.9"/>
<rect x="371.9" y="1384.4" width="14" height="14" fill="#000"/>
<rect x="395.3" y="1384.4" width="14" height="14" fill="#000"/>
<rect x="459.75" y="1210.5" width="32.4" height="195.5" fill="none" stroke="#000" stroke-width="4.9"/>
<path d="M475.95 1139.11 V1276.99 M470.45 1139.11 H481.45 M470.45 1276.99 H481.45" stroke="#000" stroke-width="3.2" fill="none"/>
<circle cx="475.9" cy="1159.3" r="7.35" fill="none" stroke="#000" stroke-width="3.25"/>
<circle cx="475.9" cy="1256.8" r="7.35" fill="none" stroke="#000" stroke-width="3.25"/>
<rect x="507.75" y="1130.05" width="32.4" height="275.95" fill="none" stroke="#000" stroke-width="4.9"/>
<path d="M523.95 1116.14 V1139.06 M518.45 1116.14 H529.45 M518.45 1139.06 H529.45" stroke="#000" stroke-width="3.2" fill="none"/>
<rect x="516.8" y="1112.5" width="14" height="14" fill="#000"/>
<rect x="516.8" y="1128.7" width="14" height="14" fill="#000"/>
<rect x="592.75" y="1095.95" width="32.4" height="310.05" fill="none" stroke="#000" stroke-width="4.9"/>
<path d="M608.95 1087.7 V1099.3 M603.45 1087.7 H614.45 M603.45 1099.3 H614.45" stroke="#000" stroke-width="3.2" fill="none"/>
<circle cx="596.5" cy="1097.6" r="7.35" fill="none" stroke="#000" stroke-width="3.25"/>
<circle cx="621" cy="1089.4" r="7.35" fill="none" stroke="#000" stroke-width="3.25"/>
<rect x="640.75" y="1031.05" width="32.4" height="374.95" fill="none" stroke="#000" stroke-width="4.9"/>
<path d="M656.95 1023.23 V1033.97 M651.45 1023.23 H662.45 M651.45 1033.97 H662.45" stroke="#000" stroke-width="3.2" fill="none"/>
<rect x="637.9" y="1025.4" width="14" height="14" fill="#000"/>
<rect x="661.5" y="1017.8" width="14" height="14" fill="#000"/>
<rect x="725.95" y="1210.75" width="32.4" height="195.25" fill="none" stroke="#000" stroke-width="4.9"/>
<path d="M742.15 1191.61 V1224.99 M736.65 1191.61 H747.65 M736.65 1224.99 H747.65" stroke="#000" stroke-width="3.2" fill="none"/>
<circle cx="742.1" cy="1196.5" r="7.35" fill="none" stroke="#000" stroke-width="3.25"/>
<circle cx="742.1" cy="1220.1" r="7.35" fill="none" stroke="#000" stroke-width="3.25"/>
<rect x="773.95" y="1193.25" width="32.4" height="212.75" fill="none" stroke="#000" stroke-width="4.9"/>
<path d="M790.15 1137.63 V1243.97 M784.65 1137.63 H795.65 M784.65 1243.97 H795.65" stroke="#000" stroke-width="3.2" fill="none"/>
<rect x="782.5" y="1146.2" width="14" height="14" fill="#000"/>
<rect x="782.5" y="1221.4" width="14" height="14" fill="#000"/>
<circle cx="863.1" cy="1405.6" r="7.35" fill="none" stroke="#000" stroke-width="3.25"/>
<circle cx="886.3" cy="1405.6" r="7.35" fill="none" stroke="#000" stroke-width="3.25"/>
<rect x="906.95" y="1401.25" width="32.4" height="4.75" fill="none" stroke="#000" stroke-width="4.9"/>
<rect x="904" y="1391.8" width="14" height="14" fill="#000"/>
<rect x="927.8" y="1391.8" width="14" height="14" fill="#000"/>
<rect x="992.15" y="1210.7" width="32.4" height="195.3" fill="none" stroke="#000" stroke-width="4.9"/>
<path d="M1008.35 1198.42 V1218.08 M1002.85 1198.42 H1013.85 M1002.85 1218.08 H1013.85" stroke="#000" stroke-width="3.2" fill="none"/>
<circle cx="994.8" cy="1215.2" r="7.35" fill="none" stroke="#000" stroke-width="3.25"/>
<circle cx="1020.9" cy="1201.3" r="7.35" fill="none" stroke="#000" stroke-width="3.25"/>
<rect x="1040.15" y="1189.2" width="32.4" height="216.8" fill="none" stroke="#000" stroke-width="4.9"/>
<path d="M1056.35 1170.84 V1202.66 M1050.85 1170.84 H1061.85 M1050.85 1202.66 H1061.85" stroke="#000" stroke-width="3.2" fill="none"/>
<rect x="1048.9" y="1168.5" width="14" height="14" fill="#000"/>
<rect x="1048.9" y="1191" width="14" height="14" fill="#000"/>
<rect x="1125.15" y="1371.95" width="32.4" height="34.05" fill="none" stroke="#000" stroke-width="4.9"/>
<circle cx="1130.4" cy="1369.5" r="7.35" fill="none" stroke="#000" stroke-width="3.25"/>
<circle cx="1153" cy="1369.5" r="7.35" fill="none" stroke="#000" stroke-width="3.25"/>
<rect x="1173.15" y="1357.2" width="32.4" height="48.8" fill="none" stroke="#000" stroke-width="4.9"/>
<path d="M1189.35 1351.57 V1357.93 M1183.85 1351.57 H1194.85 M1183.85 1357.93 H1194.85" stroke="#000" stroke-width="3.2" fill="none"/>
<rect x="1170.4" y="1350" width="14" height="14" fill="#000"/>
<rect x="1193.4" y="1345.5" width="14" height="14" fill="#000"/>
<rect x="1258.45" y="1210.7" width="32.4" height="195.3" fill="none" stroke="#000" stroke-width="4.9"/>
<path d="M1274.65 1186.12 V1230.38 M1269.15 1186.12 H1280.15 M1269.15 1230.38 H1280.15" stroke="#000" stroke-width="3.2" fill="none"/>
<circle cx="1273.7" cy="1192.6" r="7.35" fill="none" stroke="#000" stroke-width="3.25"/>
<circle cx="1273.7" cy="1223.9" r="7.35" fill="none" stroke="#000" stroke-width="3.25"/>
<rect x="1306.45" y="1207.9" width="32.4" height="198.1" fill="none" stroke="#000" stroke-width="4.9"/>
<path d="M1322.65 1169.18 V1241.72 M1317.15 1169.18 H1328.15 M1317.15 1241.72 H1328.15" stroke="#000" stroke-width="3.2" fill="none"/>
<rect x="1314.8" y="1172.8" width="14" height="14" fill="#000"/>
<rect x="1314.8" y="1224.1" width="14" height="14" fill="#000"/>
<rect x="1391.45" y="1385.35" width="32.4" height="20.65" fill="none" stroke="#000" stroke-width="4.9"/>
<path d="M1407.65 1380.21 V1385.59 M1402.15 1380.21 H1413.15 M1402.15 1385.59 H1413.15" stroke="#000" stroke-width="3.2" fill="none"/>
<circle cx="1396" cy="1384.8" r="7.35" fill="none" stroke="#000" stroke-width="3.25"/>
<circle cx="1419.8" cy="1381" r="7.35" fill="none" stroke="#000" stroke-width="3.25"/>
<rect x="1439.45" y="1379.25" width="32.4" height="26.75" fill="none" stroke="#000" stroke-width="4.9"/>
<path d="M1455.65 1373.12 V1380.48 M1450.15 1373.12 H1461.15 M1450.15 1380.48 H1461.15" stroke="#000" stroke-width="3.2" fill="none"/>
<rect x="1436.3" y="1372.4" width="14" height="14" fill="#000"/>
<rect x="1460.2" y="1367.2" width="14" height="14" fill="#000"/>
<path d="M190.3 1432.5 H408.7" stroke="#000" stroke-width="5" stroke-linecap="round"/>
<text x="268.12" y="1479" font-size="29" font-weight="bold" textLength="71.55" lengthAdjust="spacingAndGlyphs">Nox2</text>
<path d="M457.5 1432.5 H675.9" stroke="#000" stroke-width="5" stroke-linecap="round"/>
<text x="505.71" y="1479" font-size="29" font-weight="bold" textLength="128.91" lengthAdjust="spacingAndGlyphs">p67-phox</text>
<path d="M724.9 1432.5 H943.1" stroke="#000" stroke-width="5" stroke-linecap="round"/>
<text x="791.48" y="1479" font-size="29" font-weight="bold" textLength="69.5" lengthAdjust="spacingAndGlyphs">Nox1</text>
<path d="M989.5 1432.5 H1208.5" stroke="#000" stroke-width="5" stroke-linecap="round"/>
<text x="1031.2" y="1479" font-size="29" font-weight="bold" textLength="129.52" lengthAdjust="spacingAndGlyphs">p47-phox</text>
<path d="M1257.2 1432.5 H1475.2" stroke="#000" stroke-width="5" stroke-linecap="round"/>
<text x="1329.36" y="1479" font-size="29" font-weight="bold" textLength="58.33" lengthAdjust="spacingAndGlyphs">rac1</text>
<circle cx="1598.9" cy="935.9" r="7.35" fill="none" stroke="#000" stroke-width="3.25"/>
<text x="1640.06" y="946.1" font-size="28.5" textLength="92.92" lengthAdjust="spacingAndGlyphs">Vehicle</text>
<rect x="1592.05" y="979.5" width="14" height="14" fill="#000"/>
<text x="1639.08" y="996.7" font-size="28.5" textLength="32.72" lengthAdjust="spacingAndGlyphs">LT</text>
</svg></body></html>
